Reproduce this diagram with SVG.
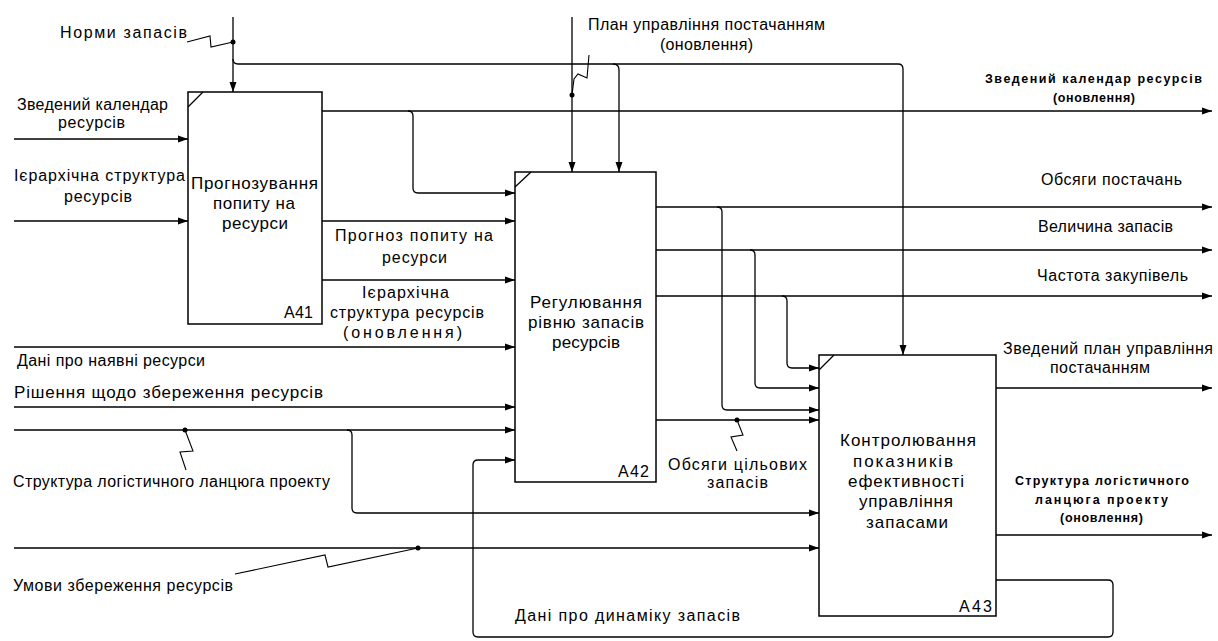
<svg xmlns="http://www.w3.org/2000/svg" width="1218" height="641" viewBox="0 0 1218 641">
<style>
.box{fill:#fff;stroke:#000;stroke-width:1.5}
.ln{fill:none;stroke:#000;stroke-width:1.3}
.sq{fill:none;stroke:#000;stroke-width:1.1}
.t{font-family:"Liberation Sans",Arial,sans-serif;font-size:16px;fill:#000}
.bt{font-family:"Liberation Sans",Arial,sans-serif;font-size:17px;fill:#000}
.sb{font-family:"Liberation Sans",Arial,sans-serif;font-size:12.5px;font-weight:bold;fill:#000}
</style>
<defs>
<marker id="ar" markerUnits="userSpaceOnUse" markerWidth="10" markerHeight="8" refX="10" refY="4" orient="auto">
<path d="M0,0.5 L10,4 L0,7.5 z" fill="#000"/>
</marker>
</defs>
<rect width="1218" height="641" fill="#fff"/>

<g id="connectors">
<!-- Норми запасів -->
<path class="ln" d="M233,17 V92" marker-end="url(#ar)"/>
<path class="ln" d="M233,59 Q233,64 238,64 H898 Q903,64 903,69 V355" marker-end="url(#ar)"/>
<path class="ln" d="M613,64 Q619,64 619,70 V172" marker-end="url(#ar)"/>
<circle cx="233" cy="42" r="2.5"/>
<path class="sq" d="M187,42 L210,36 L211,47 L233,42"/>
<!-- План управління -->
<path class="ln" d="M572,17 V172" marker-end="url(#ar)"/>
<circle cx="572" cy="95" r="2.5"/>
<path class="sq" d="M589,55 L587,78 L578,74 L574,79 L572,95"/>
<!-- A41 outputs -->
<path class="ln" d="M322,111 H1212" marker-end="url(#ar)"/>
<path class="ln" d="M408,111 Q413,111 413,116 V188 Q413,193 418,193 H515" marker-end="url(#ar)"/>
<path class="ln" d="M322,221 H515" marker-end="url(#ar)"/>
<path class="ln" d="M322,280 H515" marker-end="url(#ar)"/>
<!-- A41 inputs -->
<path class="ln" d="M14,139 H188" marker-end="url(#ar)"/>
<path class="ln" d="M14,221 H188" marker-end="url(#ar)"/>
<!-- A42 inputs -->
<path class="ln" d="M14,347 H515" marker-end="url(#ar)"/>
<path class="ln" d="M14,407 H515" marker-end="url(#ar)"/>
<path class="ln" d="M14,430 H515" marker-end="url(#ar)"/>
<path class="ln" d="M347,430 Q352,430 352,435 V508 Q352,513 357,513 H819" marker-end="url(#ar)"/>
<circle cx="185" cy="430" r="2.5"/>
<path class="sq" d="M185,430 L193,451 L180,452 L186,470"/>
<path class="ln" d="M14,548 H819" marker-end="url(#ar)"/>
<circle cx="418" cy="548" r="2.5"/>
<path class="sq" d="M418,548 L328,567 L325,555 L235,574"/>
<!-- feedback -->
<path class="ln" d="M996,580 H1108 Q1113,580 1113,585 V632 Q1113,637 1108,637 H478 Q473,637 473,632 V465 Q473,460 478,460 H515" marker-end="url(#ar)"/>
<!-- A42 outputs -->
<path class="ln" d="M656,207 H1212" marker-end="url(#ar)"/>
<path class="ln" d="M717,207 Q722,207 722,212 V405 Q722,410 727,410 H819" marker-end="url(#ar)"/>
<path class="ln" d="M656,250 H1212" marker-end="url(#ar)"/>
<path class="ln" d="M750,250 Q755,250 755,255 V383 Q755,388 760,388 H819" marker-end="url(#ar)"/>
<path class="ln" d="M656,296 H1212" marker-end="url(#ar)"/>
<path class="ln" d="M782,296 Q787,296 787,301 V363 Q787,368 792,368 H819" marker-end="url(#ar)"/>
<path class="ln" d="M656,420 H819" marker-end="url(#ar)"/>
<circle cx="737" cy="420" r="2.5"/>
<path class="sq" d="M737,420 L743,435 L731,437 L737,451"/>
<!-- A43 outputs -->
<path class="ln" d="M996,388 H1212" marker-end="url(#ar)"/>
<path class="ln" d="M996,535 H1212" marker-end="url(#ar)"/>
</g>

<g id="A41">
<rect class="box" x="188" y="92" width="134" height="232"/>
<path class="ln" d="M188,107 L203,92"/>
<text class="bt" x="191" y="189" textLength="127">Прогнозування</text>
<text class="bt" x="213" y="209" textLength="82">попиту на</text>
<text class="bt" x="222" y="229" textLength="66">ресурси</text>
<text class="t" x="284" y="318" textLength="29">A41</text>
</g>

<g id="A42">
<rect class="box" x="515" y="172" width="141" height="310"/>
<path class="ln" d="M515,187 L531,172"/>
<text class="bt" x="530" y="308" textLength="112">Регулювання</text>
<text class="bt" x="528" y="328" textLength="116">рівню запасів</text>
<text class="bt" x="552" y="348" textLength="68">ресурсів</text>
<text class="t" x="618" y="477" textLength="31">A42</text>
</g>

<g id="A43">
<rect class="box" x="819" y="355" width="177" height="261"/>
<path class="ln" d="M819,370 L834,355"/>
<text class="bt" x="840" y="446" textLength="136">Контролювання</text>
<text class="bt" x="853" y="467" textLength="100">показників</text>
<text class="bt" x="848" y="487" textLength="116">ефективності</text>
<text class="bt" x="859" y="507" textLength="94">управління</text>
<text class="bt" x="866" y="528" textLength="82">запасами</text>
<text class="t" x="959" y="612" textLength="33">A43</text>
</g>

<g id="labels">
<text class="t" x="60" y="38" textLength="127">Норми запасів</text>
<text class="t" x="17" y="110" textLength="151">Зведений календар</text>
<text class="t" x="58" y="128" textLength="67">ресурсів</text>
<text class="t" x="14" y="181" textLength="171">Ієрархічна структура</text>
<text class="t" x="64" y="202" textLength="68">ресурсів</text>
<text class="t" x="335" y="241" textLength="158">Прогноз попиту на</text>
<text class="t" x="382" y="263" textLength="65">ресурси</text>
<text class="t" x="362" y="298" textLength="87">Ієрархічна</text>
<text class="t" x="330" y="318" textLength="154">структура ресурсів</text>
<text class="t" x="343" y="338" textLength="119">(оновлення)</text>
<text class="t" x="17" y="366" textLength="188">Дані про наявні ресурси</text>
<text class="bt" x="14" y="398" textLength="309">Рішення щодо збереження ресурсів</text>
<text class="t" x="13" y="487" textLength="317">Структура логістичного ланцюга проекту</text>
<text class="t" x="13" y="591" textLength="220">Умови збереження ресурсів</text>
<text class="t" x="588" y="30" textLength="237">План управління постачанням</text>
<text class="t" x="660" y="50" textLength="93">(оновлення)</text>
<text class="sb" x="985" y="83" textLength="217">Зведений календар ресурсів</text>
<text class="sb" x="1053" y="102" textLength="82">(оновлення)</text>
<text class="t" x="1041" y="185" textLength="141">Обсяги постачань</text>
<text class="t" x="1038" y="232" textLength="135">Величина запасів</text>
<text class="t" x="1037" y="281" textLength="151">Частота закупівель</text>
<text class="t" x="668" y="470" textLength="139">Обсяги цільових</text>
<text class="t" x="707" y="488" textLength="61">запасів</text>
<text class="t" x="1003" y="354" textLength="210">Зведений план управління</text>
<text class="t" x="1050" y="373" textLength="100">постачанням</text>
<text class="sb" x="1015" y="485" textLength="174">Структура логістичного</text>
<text class="sb" x="1035" y="504" textLength="133">ланцюга проекту</text>
<text class="sb" x="1060" y="522" textLength="83">(оновлення)</text>
<text class="t" x="515" y="621" textLength="225">Дані про динаміку запасів</text>
</g>
</svg>
